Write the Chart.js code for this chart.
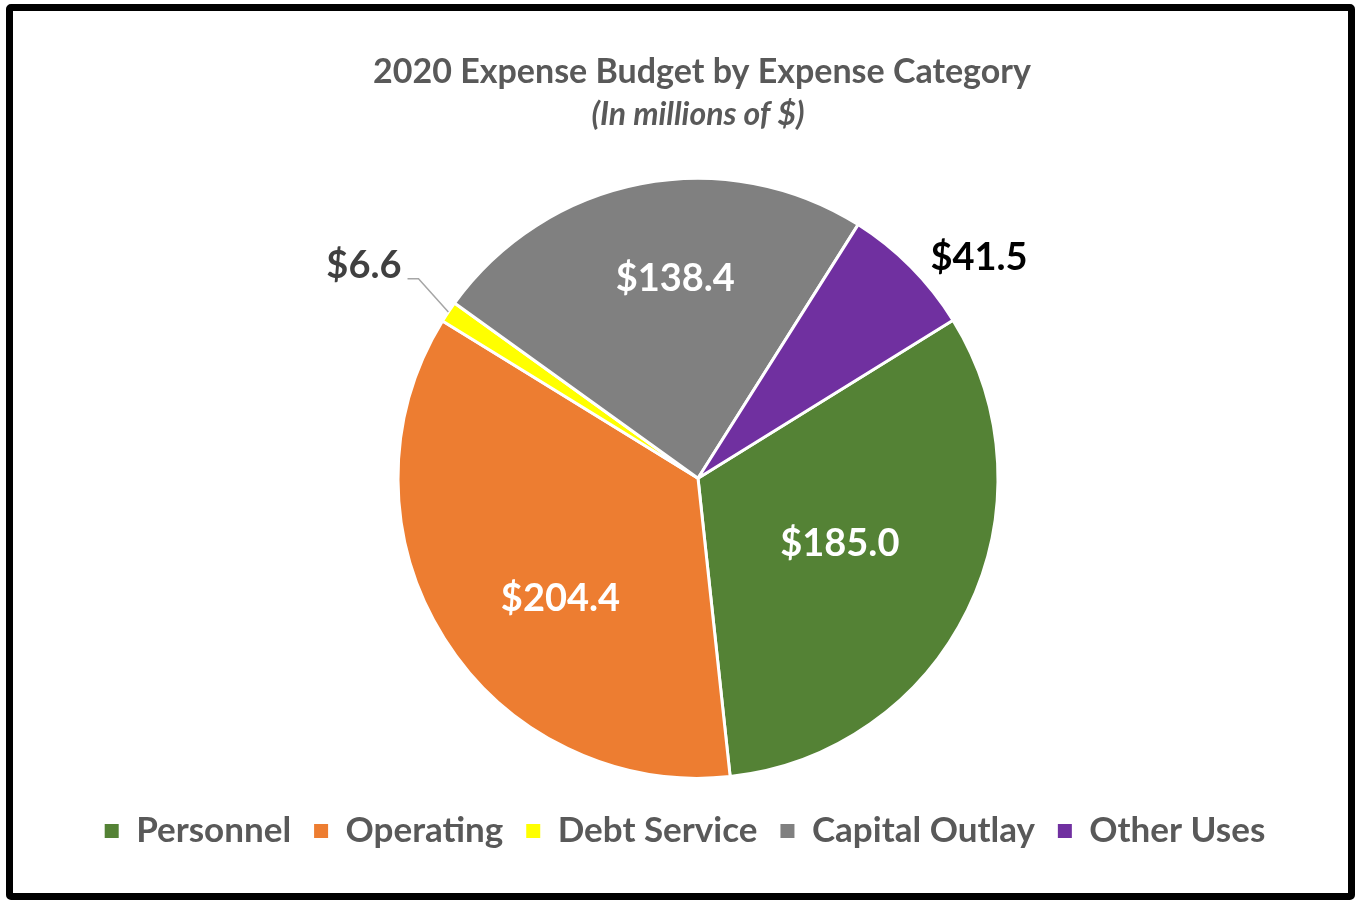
<!DOCTYPE html>
<html>
<head>
<meta charset="utf-8">
<script src="https://cdn.jsdelivr.net/npm/chart.js@4.4.0/dist/chart.umd.min.js"></script>
<style>
  html, body { margin: 0; padding: 0; background: #fff; }
  #frame {
    position: absolute; left: 6px; top: 4px;
    width: 1349px; height: 896px;
    box-sizing: border-box; border: 7px solid #000; border-radius: 5px;
  }
  #wrap { position: absolute; left: 0; top: 0; width: 1335px; height: 882px; }
</style>
</head>
<body>
<div id="frame"><div id="wrap"><canvas id="budget-chart"></canvas></div></div>
<script>
// ====== Data ======
const categories = ['Personnel', 'Operating', 'Debt Service', 'Capital Outlay', 'Other Uses'];
const amounts = [185.0, 204.4, 6.6, 138.4, 41.5];
const sliceColors = ['#548235', '#ED7D31', '#FFFF00', '#808080', '#7030A0'];

// label placement per slice: fraction of radius, angle nudge in degrees, colour
const labelRadius = [0.52, 0.61, 1.32, 0.67, 1.19];
const labelNudge = [-1.4, -9, -1.2, 4.5, 6.7];
const labelColors = ['#ffffff', '#ffffff', '#404040', '#ffffff', '#000000'];

const FONT = 'Lato, "Open Sans", sans-serif';

// Draw the value labels (and the leader line for the thin slice)
const sliceLabels = {
  id: 'sliceLabels',
  afterDatasetsDraw(chart) {
    const ctx = chart.ctx;
    const meta = chart.getDatasetMeta(0);
    ctx.save();
    ctx.font = 'bold 38px ' + FONT;
    ctx.textAlign = 'center';
    ctx.textBaseline = 'middle';
    meta.data.forEach((arc, i) => {
      const p = arc.getProps(['x', 'y', 'startAngle', 'endAngle', 'outerRadius'], true);
      const mid = (p.startAngle + p.endAngle) / 2;
      const ang = mid + labelNudge[i] * Math.PI / 180;
      const r = p.outerRadius * labelRadius[i];
      const x = p.x + Math.cos(ang) * r;
      const y = p.y + Math.sin(ang) * r;
      const text = '$' + amounts[i].toFixed(1);
      ctx.fillStyle = labelColors[i];
      ctx.fillText(text, x, y);

      // leader line for small outside label on the left
      if (labelRadius[i] > 1 && Math.cos(ang) < 0) {
        const w = ctx.measureText(text).width;
        const sx = x + w / 2 + 6;
        const sy = y + 13;
        const ex = p.x + Math.cos(mid) * p.outerRadius;
        const ey = p.y + Math.sin(mid) * p.outerRadius;
        ctx.strokeStyle = '#A6A6A6';
        ctx.lineWidth = 1.5;
        ctx.beginPath();
        ctx.moveTo(sx, sy);
        ctx.lineTo(sx + 11, sy);
        ctx.lineTo(ex, ey);
        ctx.stroke();
      }
    });
    ctx.restore();
  }
};

// Nudge the legend and titles sideways a little (they are not centred on the pie)
const boxShift = {
  id: 'boxShift',
  afterLayout(chart) {
    const shifts = [[chart.legend, -13], [chart.titleBlock, 4], [chart.subtitleBlock, 2]];
    shifts.forEach(([box, dx]) => {
      if (!box) return;
      box.left += dx;
      box.right += dx;
    });
  }
};

function initPieChart() {
  const canvas = document.getElementById('budget-chart');
  const ctx = canvas.getContext('2d');

  return new Chart(ctx, {
    type: 'pie',
    data: {
      labels: categories,
      datasets: [{
        data: amounts,
        backgroundColor: sliceColors,
        borderColor: '#ffffff',
        borderWidth: 3,
        hoverOffset: 0
      }]
    },
    options: {
      responsive: true,
      maintainAspectRatio: false,
      animation: false,
      rotation: 58.2,
      radius: 300,
      layout: { padding: { left: 35, top: 0, right: 0, bottom: 34.5 } },
      plugins: {
        title: {
          display: true,
          text: '2020 Expense Budget by Expense Category',
          color: '#595959',
          font: { family: FONT, size: 34, weight: 'bold', lineHeight: 1.2 },
          padding: { top: 40.6, bottom: 3 }
        },
        subtitle: {
          display: true,
          text: '(In millions of $)',
          color: '#595959',
          font: { family: FONT, size: 32, weight: 'bold', style: 'italic', lineHeight: 1.2 },
          padding: { top: 0, bottom: 32.3 }
        },
        legend: {
          position: 'bottom',
          labels: {
            color: '#595959',
            font: { family: FONT, size: 35, weight: 'bold' },
            boxWidth: 14,
            boxHeight: 14,
            padding: 23,
            generateLabels(chart) {
              const items = Chart.overrides.pie.plugins.legend.labels.generateLabels(chart);
              items.forEach(it => { it.lineWidth = 0; it.strokeStyle = it.fillStyle; });
              return items;
            }
          }
        },
        tooltip: { enabled: false }
      }
    },
    plugins: [sliceLabels, boxShift]
  });
}

initPieChart();
</script>
</body>
</html>
